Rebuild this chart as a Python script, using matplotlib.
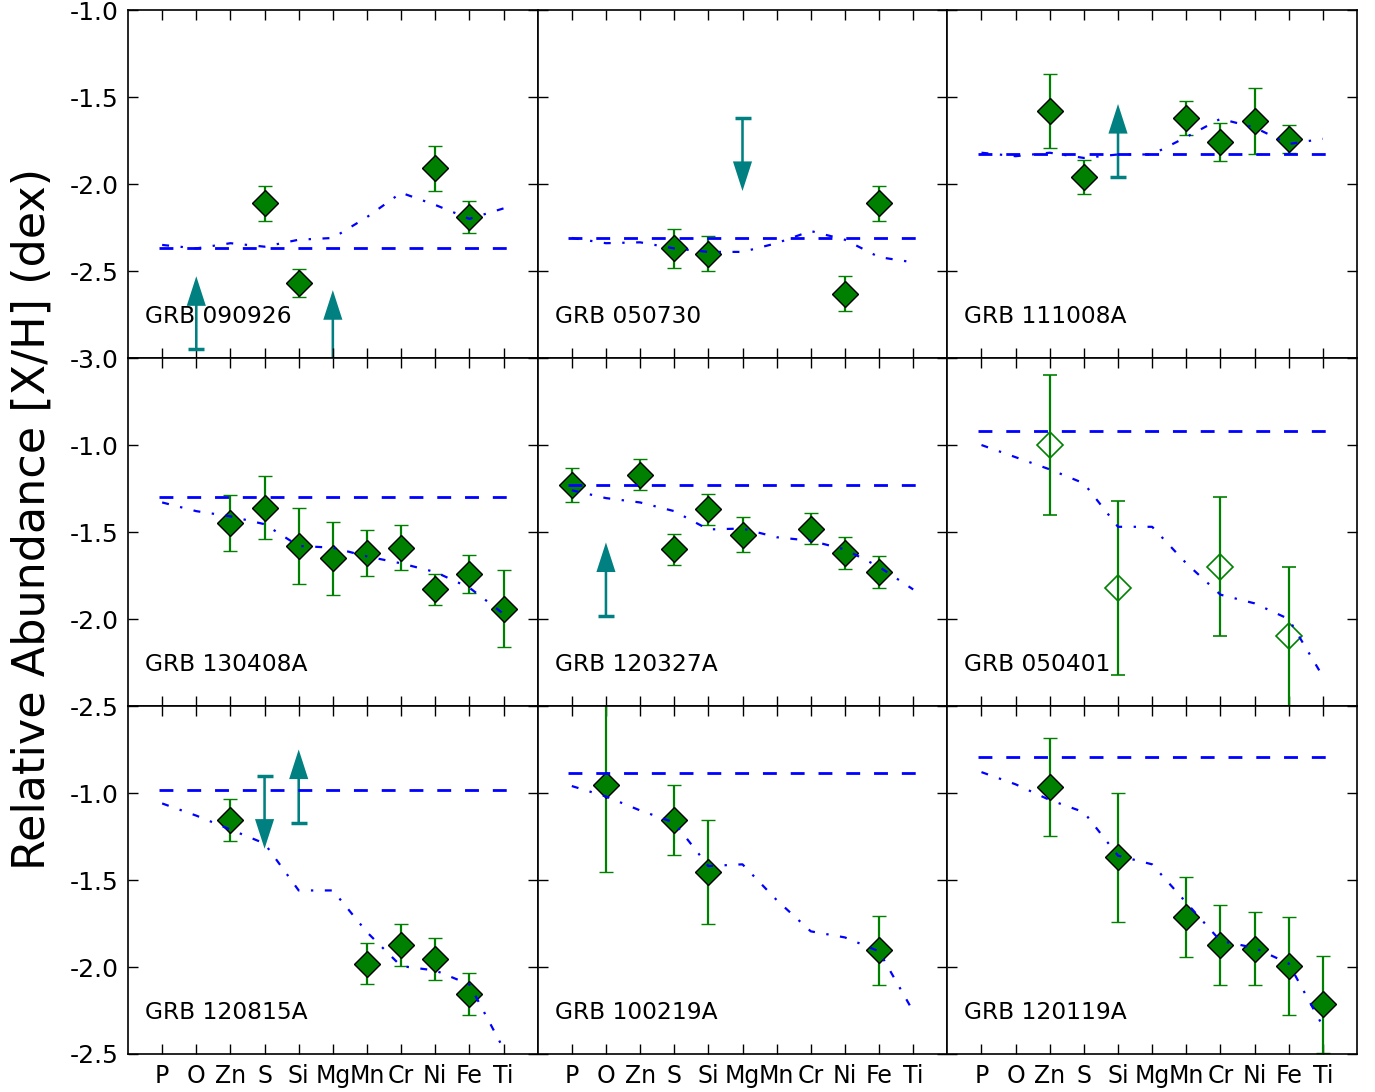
import matplotlib
matplotlib.use('Agg')
import matplotlib.pyplot as plt

plt.rcParams['axes.unicode_minus'] = False
plt.rcParams['lines.scale_dashes'] = False

elements = ['P', 'O', 'Zn', 'S', 'Si', 'Mg', 'Mn', 'Cr', 'Ni', 'Fe', 'Ti']

grbs = ['GRB 090926', 'GRB 050730', 'GRB 111008A',
        'GRB 130408A', 'GRB 120327A', 'GRB 050401',
        'GRB 120815A', 'GRB 100219A', 'GRB 120119A']

# measured abundances (element, [X/H], 1 sigma)
meas_el = [['S', 'Si', 'Ni', 'Fe'],
           ['S', 'Si', 'Ni', 'Fe'],
           ['Zn', 'S', 'Mn', 'Cr', 'Ni', 'Fe'],
           ['Zn', 'S', 'Si', 'Mg', 'Mn', 'Cr', 'Ni', 'Fe', 'Ti'],
           ['P', 'Zn', 'S', 'Si', 'Mg', 'Cr', 'Ni', 'Fe'],
           ['Zn', 'Si', 'Cr', 'Fe'],
           ['Zn', 'Mn', 'Cr', 'Ni', 'Fe'],
           ['O', 'S', 'Si', 'Fe'],
           ['Zn', 'Si', 'Mn', 'Cr', 'Ni', 'Fe', 'Ti']]
meas_val = [[-2.11, -2.57, -1.91, -2.19],
            [-2.37, -2.40, -2.63, -2.11],
            [-1.58, -1.96, -1.62, -1.76, -1.64, -1.74],
            [-1.45, -1.36, -1.58, -1.65, -1.62, -1.59, -1.83, -1.74, -1.94],
            [-1.23, -1.17, -1.60, -1.37, -1.515, -1.48, -1.62, -1.73],
            [-1.00, -1.82, -1.70, -2.10],
            [-1.155, -1.98, -1.875, -1.955, -2.155],
            [-0.955, -1.155, -1.455, -1.905],
            [-0.965, -1.37, -1.715, -1.875, -1.895, -1.995, -2.215]]
meas_err = [[0.10, 0.08, 0.13, 0.09],
            [0.11, 0.10, 0.10, 0.10],
            [0.21, 0.10, 0.10, 0.11, 0.19, 0.08],
            [0.16, 0.18, 0.22, 0.21, 0.13, 0.13, 0.09, 0.11, 0.22],
            [0.10, 0.09, 0.09, 0.09, 0.10, 0.09, 0.09, 0.09],
            [0.40, 0.50, 0.40, 0.40],
            [0.12, 0.12, 0.12, 0.12, 0.12],
            [0.50, 0.20, 0.30, 0.20],
            [0.28, 0.37, 0.23, 0.23, 0.21, 0.28, 0.28]]
open_symbols = [False, False, False, False, False, True, False, False, False]

# limits: +1 lower limit (arrow up), -1 upper limit (arrow down)
lim_el = [['O', 'Mg'], ['Mg'], ['Si'], [], ['O'], [], ['S', 'Si'], [], []]
lim_val = [[-2.95, -3.03], [-1.62], [-1.96], [], [-1.98], [], [-0.90, -1.17], [], []]
lim_dir = [[1, 1], [-1], [1], [], [1], [], [-1, 1], [], []]
arrow_len = 0.42

# best-fit metallicity (dashed) and depletion model (dash-dot)
metallicity = [-2.37, -2.31, -1.83, -1.30, -1.23, -0.92, -0.985, -0.885, -0.795]
model = [[-2.35, -2.37, -2.34, -2.36, -2.32, -2.31, -2.19, -2.05, -2.12, -2.20, -2.14],
         [-2.31, -2.34, -2.335, -2.37, -2.39, -2.39, -2.34, -2.27, -2.32, -2.42, -2.45],
         [-1.82, -1.84, -1.82, -1.85, -1.83, -1.83, -1.73, -1.625, -1.675, -1.77, -1.74],
         [-1.33, -1.38, -1.41, -1.455, -1.58, -1.59, -1.64, -1.68, -1.73, -1.82, -1.97],
         [-1.26, -1.305, -1.33, -1.38, -1.485, -1.48, -1.53, -1.55, -1.60, -1.70, -1.83],
         [-1.00, -1.07, -1.14, -1.22, -1.47, -1.47, -1.68, -1.86, -1.91, -2.00, -2.33],
         [-1.06, -1.13, -1.21, -1.29, -1.56, -1.56, -1.80, -1.995, -2.02, -2.10, -2.47],
         [-0.96, -1.02, -1.10, -1.17, -1.42, -1.41, -1.615, -1.795, -1.83, -1.91, -2.255],
         [-0.88, -0.95, -1.04, -1.11, -1.36, -1.41, -1.63, -1.85, -1.89, -1.98, -2.34]]

row_ylim = [(-3.0, -1.0), (-2.5, -0.5), (-2.5, -0.5)]

fig, axes = plt.subplots(3, 3, figsize=(13.75, 10.92), dpi=100, sharex=True, sharey='row')
fig.subplots_adjust(left=0.0931, right=0.9869, top=0.9908, bottom=0.0348,
                    wspace=0, hspace=0)

xpos = list(range(len(elements)))

for k, ax in enumerate(axes.flat):
    row, col = divmod(k, 3)
    ymin, ymax = row_ylim[row]

    xs = [elements.index(e) for e in meas_el[k]]
    if open_symbols[k]:
        ax.errorbar(xs, meas_val[k], yerr=meas_err[k], fmt='D', color='g',
                    mfc='none', mec='g', mew=1.2, ms=13.5, elinewidth=1.6,
                    capsize=5, capthick=1.5)
    else:
        ax.errorbar(xs, meas_val[k], yerr=meas_err[k], fmt='D', color='g',
                    mfc='g', mec='k', mew=1.0, ms=13.5, elinewidth=1.6,
                    capsize=5, capthick=1.5)

    for e, v, d in zip(lim_el[k], lim_val[k], lim_dir[k]):
        x = elements.index(e)
        ax.arrow(x, v, 0, d * arrow_len, width=0.075, head_width=0.56,
                 head_length=0.17, length_includes_head=True,
                 fc='teal', ec='teal', lw=0)
        ax.plot(x, v, marker='_', ms=11, mew=2.5, color='teal')

    ax.plot([-0.1, 10.1], [metallicity[k]] * 2, color='b', lw=2,
            dashes=(10, 10), zorder=4)
    ax.plot(xpos, model[k], color='b', lw=1.6, dashes=(5, 8.3, 1.7, 8.3),
            zorder=4)

    ax.text(-0.5, ymin + 0.2, grbs[k], fontsize=16.8)

    ax.set_xlim(-1, 11)
    ax.set_ylim(ymin, ymax)
    ax.set_xticks(xpos)
    ax.set_xticklabels(elements)
    yt = [ymin + 0.5 * i for i in range(5)]
    labels = ['%.1f' % t for t in yt]
    if row > 0:
        labels[-1] = ''
    ax.set_yticks(yt)
    ax.set_yticklabels(labels)
    ax.tick_params(direction='in', top=True, right=True, length=7, width=1,
                   pad=7)
    ax.tick_params(axis='x', labelsize=17)
    ax.tick_params(axis='y', labelsize=18)
    for sp in ax.spines.values():
        sp.set_linewidth(1.2)

fig.text(0.0236, 0.525, 'Relative Abundance [X/H] (dex)', rotation=90,
         va='center', ha='center', fontsize=32)

fig.savefig('out.png', dpi=100)
